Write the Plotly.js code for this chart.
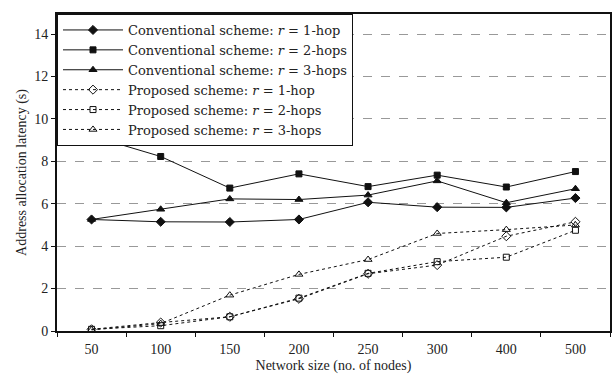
<!DOCTYPE html>
<html>
<head>
<meta charset="utf-8">
<script src="https://cdn.plot.ly/plotly-3.0.1.min.js"></script>
<style>html,body{margin:0;padding:0;background:#fff;}#chart{width:614px;height:379px;}</style>
</head>
<body>
<div id="chart"></div>
<script>
const networkSizes = ["50", "100", "150", "200", "250", "300", "400", "500"];
const conv1hop = [5.26, 5.15, 5.14, 5.26, 6.07, 5.84, 5.83, 6.27];
const conv2hops = [9.2, 8.23, 6.74, 7.41, 6.81, 7.35, 6.79, 7.52];
const conv3hops = [5.26, 5.74, 6.23, 6.2, 6.41, 7.08, 6.05, 6.71];
const prop1hop = [0.08, 0.4, 0.67, 1.52, 2.7, 3.11, 4.47, 5.15];
const prop2hops = [0.08, 0.25, 0.67, 1.55, 2.72, 3.27, 3.48, 4.75];
const prop3hops = [0.05, 0.35, 1.69, 2.67, 3.37, 4.6, 4.78, 5.0];
const seriesNames = [
  "Conventional scheme: <i>r</i> = 1-hop",
  "Conventional scheme: <i>r</i> = 2-hops",
  "Conventional scheme: <i>r</i> = 3-hops",
  "Proposed scheme: <i>r</i> = 1-hop",
  "Proposed scheme: <i>r</i> = 2-hops",
  "Proposed scheme: <i>r</i> = 3-hops"
];
const yTicks = [0, 2, 4, 6, 8, 10, 12, 14];

const serif = "Liberation Serif, Times New Roman, serif";
const legendFont = "DejaVu Serif, serif";
function tr(y, name, symbol, dash, size) {
  return {
    x: networkSizes, y: y, name: name, type: "scatter", mode: "lines+markers",
    line: {color: "#111", width: 1, dash: dash},
    marker: {symbol: symbol, size: size, color: "#111", line: {color: "#111", width: 1}}
  };
}
const data = [
  tr(conv1hop, seriesNames[0], "diamond", "solid", 7),
  tr(conv2hops, seriesNames[1], "square", "solid", 6),
  tr(conv3hops, seriesNames[2], "triangle-up", "solid", 7),
  tr(prop1hop, seriesNames[3], "diamond-open", "dot", 7),
  tr(prop2hops, seriesNames[4], "square-open", "dot", 6),
  tr(prop3hops, seriesNames[5], "triangle-up-open", "dot", 7)
];
const layout = {
  width: 614, height: 379,
  margin: {l: 57, r: 4, t: 14, b: 48},
  paper_bgcolor: "#fff", plot_bgcolor: "#fff",
  font: {family: serif, size: 14, color: "#222"},
  showlegend: true,
  legend: {
    x: 0, y: 1, xanchor: "left", yanchor: "top",
    bgcolor: "#fff", bordercolor: "#111", borderwidth: 1,
    font: {family: legendFont, size: 13, color: "#222"},
    tracegroupgap: 0, itemwidth: 60
  },
  xaxis: {
    type: "category", range: [-0.5, 7.5],
    tickson: "boundaries", ticks: "outside", ticklen: 4, tickcolor: "#111",
    ticklabelstandoff: 4,
    showgrid: false, zeroline: false,
    showline: true, linecolor: "#111", linewidth: 2, mirror: true,
    tickfont: {family: serif, size: 14, color: "#222"},
    title: {text: "Network size (no. of nodes)", font: {family: serif, size: 14, color: "#222"}, standoff: 4}
  },
  yaxis: {
    range: [0, 14.95], tickvals: yTicks, ticktext: yTicks.map(String),
    ticks: "outside", ticklen: 4, tickcolor: "#111",
    showgrid: true, gridcolor: "#999", griddash: "dash", gridwidth: 1,
    zeroline: false,
    showline: true, linecolor: "#111", linewidth: 2, mirror: true,
    tickfont: {family: serif, size: 14, color: "#222"},
    title: {text: "Address allocation latency (s)", font: {family: serif, size: 14, color: "#222"}, standoff: 4}
  }
};
Plotly.newPlot("chart", data, layout, {displayModeBar: false, staticPlot: true});
</script>
</body>
</html>
